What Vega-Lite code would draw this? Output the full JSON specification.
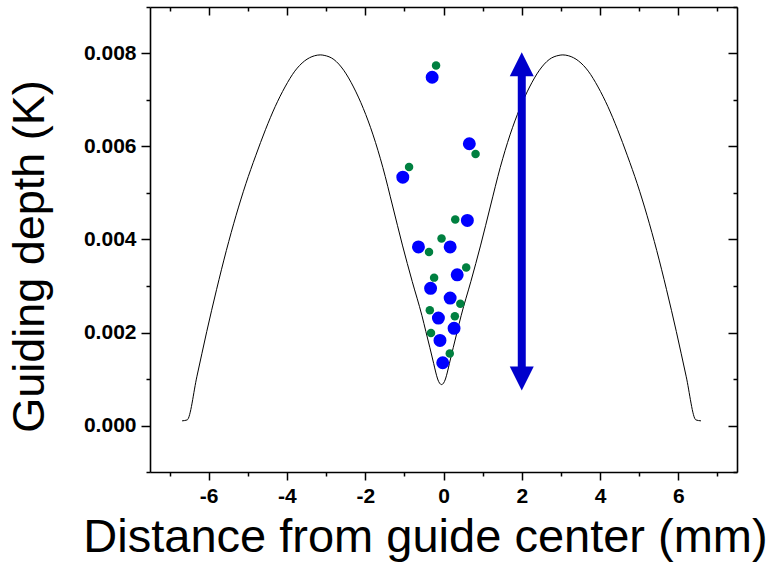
{
  "$schema": "https://vega.github.io/schema/vega-lite/v6.json",
  "autosize": "none",
  "width": 587,
  "height": 465,
  "padding": {"left": 150, "top": 7, "right": 39, "bottom": 90},
  "background": "white",
  "config": {
    "view": {"stroke": null},
    "font": "Liberation Sans",
    "axis": {
      "grid": false,
      "domainColor": "#000000",
      "domainWidth": 1.6,
      "tickColor": "#000000",
      "tickWidth": 1.5,
      "labelFont": "Liberation Sans",
      "labelFontWeight": "bold",
      "labelFontSize": 21,
      "labelColor": "#000000",
      "titleFont": "Liberation Sans",
      "titleFontWeight": "normal",
      "titleColor": "#000000"
    }
  },
  "datasets": {
    "profile": [
      {"x": -6.68, "y": 0.00010}, {"x": -6.55, "y": 0.00012}, {"x": -6.30, "y": 0.00106},
      {"x": -6.05, "y": 0.00202}, {"x": -5.80, "y": 0.00292}, {"x": -5.55, "y": 0.00376},
      {"x": -5.30, "y": 0.00452}, {"x": -5.05, "y": 0.00520}, {"x": -4.80, "y": 0.00580},
      {"x": -4.55, "y": 0.00636}, {"x": -4.30, "y": 0.00686}, {"x": -4.05, "y": 0.00728},
      {"x": -3.80, "y": 0.00762}, {"x": -3.55, "y": 0.00784}, {"x": -3.30, "y": 0.00795},
      {"x": -3.15, "y": 0.00797}, {"x": -3.05, "y": 0.00796}, {"x": -2.80, "y": 0.00787},
      {"x": -2.55, "y": 0.00764}, {"x": -2.30, "y": 0.00728}, {"x": -2.05, "y": 0.00682},
      {"x": -1.80, "y": 0.00625}, {"x": -1.55, "y": 0.00555}, {"x": -1.30, "y": 0.00472},
      {"x": -1.05, "y": 0.00388}, {"x": -0.80, "y": 0.00310}, {"x": -0.55, "y": 0.00236},
      {"x": -0.45, "y": 0.00202}, {"x": -0.35, "y": 0.00168}, {"x": -0.25, "y": 0.00133},
      {"x": -0.20, "y": 0.00115}, {"x": -0.15, "y": 0.00100}, {"x": -0.10, "y": 0.00091},
      {"x": -0.05, "y": 0.00088},
      {"x": 0.00, "y": 0.00091}, {"x": 0.05, "y": 0.00100}, {"x": 0.10, "y": 0.00115},
      {"x": 0.15, "y": 0.00133}, {"x": 0.25, "y": 0.00168}, {"x": 0.35, "y": 0.00202},
      {"x": 0.45, "y": 0.00236}, {"x": 0.70, "y": 0.00310}, {"x": 0.95, "y": 0.00388},
      {"x": 1.20, "y": 0.00472}, {"x": 1.45, "y": 0.00555}, {"x": 1.70, "y": 0.00625},
      {"x": 1.95, "y": 0.00682}, {"x": 2.20, "y": 0.00728}, {"x": 2.45, "y": 0.00764},
      {"x": 2.70, "y": 0.00787}, {"x": 2.95, "y": 0.00796}, {"x": 3.05, "y": 0.00797},
      {"x": 3.20, "y": 0.00795}, {"x": 3.45, "y": 0.00784}, {"x": 3.70, "y": 0.00762},
      {"x": 3.95, "y": 0.00728}, {"x": 4.20, "y": 0.00686}, {"x": 4.45, "y": 0.00636},
      {"x": 4.70, "y": 0.00580}, {"x": 4.95, "y": 0.00520}, {"x": 5.20, "y": 0.00452},
      {"x": 5.45, "y": 0.00376}, {"x": 5.70, "y": 0.00292}, {"x": 5.95, "y": 0.00202},
      {"x": 6.20, "y": 0.00106}, {"x": 6.45, "y": 0.00012}, {"x": 6.58, "y": 0.00010}
    ],
    "arrow": [
      {"x": 2.0, "top": 0.00777, "bottom": 0.00101}
    ],
    "arrowheads": [
      {"x": 2.0, "y": 0.00777, "dir": "up"},
      {"x": 2.0, "y": 0.00101, "dir": "down"}
    ],
    "measurements": [
      {"group": "green", "x": -0.19, "y": 0.00774},
      {"group": "green", "x": 0.82, "y": 0.00584},
      {"group": "green", "x": -0.88, "y": 0.00556},
      {"group": "green", "x": 0.30, "y": 0.00443},
      {"group": "green", "x": -0.37, "y": 0.00373},
      {"group": "green", "x": -0.05, "y": 0.00402},
      {"group": "green", "x": 0.58, "y": 0.00340},
      {"group": "green", "x": -0.24, "y": 0.00318},
      {"group": "green", "x": 0.43, "y": 0.00262},
      {"group": "green", "x": -0.35, "y": 0.00248},
      {"group": "green", "x": 0.29, "y": 0.00235},
      {"group": "green", "x": -0.32, "y": 0.00199},
      {"group": "green", "x": 0.16, "y": 0.00155},
      {"group": "blue", "x": -0.29, "y": 0.00749},
      {"group": "blue", "x": 0.66, "y": 0.00606},
      {"group": "blue", "x": -1.04, "y": 0.00534},
      {"group": "blue", "x": 0.61, "y": 0.00441},
      {"group": "blue", "x": -0.64, "y": 0.00384},
      {"group": "blue", "x": 0.17, "y": 0.00384},
      {"group": "blue", "x": 0.35, "y": 0.00324},
      {"group": "blue", "x": -0.33, "y": 0.00295},
      {"group": "blue", "x": 0.17, "y": 0.00274},
      {"group": "blue", "x": -0.13, "y": 0.00231},
      {"group": "blue", "x": 0.27, "y": 0.00209},
      {"group": "blue", "x": -0.09, "y": 0.00183},
      {"group": "blue", "x": -0.02, "y": 0.00135}
    ]
  },
  "resolve": {"axis": {"x": "independent", "y": "independent"}},
  "layer": [
    {
      "data": {"name": "profile"},
      "mark": {"type": "line", "color": "#000000", "strokeWidth": 1, "interpolate": "monotone"},
      "encoding": {
        "x": {
          "field": "x", "type": "quantitative",
          "scale": {"domain": [-7.5, 7.5], "nice": false, "zero": false},
          "axis": {
            "orient": "bottom",
            "values": [-7, -6, -5, -4, -3, -2, -1, 0, 1, 2, 3, 4, 5, 6, 7],
            "labelExpr": "datum.value % 2 === 0 ? '' + datum.value : ''",
            "tickSize": {"condition": {"test": "datum.value % 2 === 0", "value": 8}, "value": 4},
            "labelPadding": 5,
            "title": "Distance from guide center (mm)",
            "titleFontSize": 47,
            "titleX": 275,
            "titleY": 79,
            "titleBaseline": "alphabetic"
          }
        },
        "y": {
          "field": "y", "type": "quantitative",
          "scale": {"domain": [-0.001, 0.009], "nice": false, "zero": false},
          "axis": {
            "orient": "left",
            "values": [-0.001, 0, 0.001, 0.002, 0.003, 0.004, 0.005, 0.006, 0.007, 0.008, 0.009],
            "labelExpr": "round(datum.value * 1000) % 2 === 0 && datum.value >= 0 && datum.value < 0.0085 ? format(datum.value, '.3f') : ''",
            "tickSize": {"condition": {"test": "round(datum.value * 1000) % 2 === 0", "value": 9}, "value": 4},
            "labelPadding": 5,
            "title": "Guiding depth (K)",
            "titleFontSize": 45,
            "titleX": -107,
            "titleY": 249,
            "titleBaseline": "alphabetic"
          }
        }
      }
    },
    {
      "data": {"name": "arrow"},
      "mark": {"type": "rule", "color": "#0000CC", "strokeWidth": 8},
      "encoding": {
        "x": {"field": "x", "type": "quantitative", "axis": null},
        "y": {"field": "top", "type": "quantitative", "axis": null},
        "y2": {"field": "bottom"}
      }
    },
    {
      "data": {"name": "arrowheads"},
      "mark": {"type": "point", "filled": true, "opacity": 1, "color": "#0000CC", "size": 576},
      "encoding": {
        "x": {"field": "x", "type": "quantitative", "axis": null},
        "y": {"field": "y", "type": "quantitative", "axis": null},
        "shape": {
          "field": "dir", "type": "nominal", "legend": null,
          "scale": {"domain": ["up", "down"], "range": ["M-1,1L0,-1L1,1Z", "M-1,-1L0,1L1,-1Z"]}
        }
      }
    },
    {
      "data": {"name": "measurements"},
      "mark": {"type": "circle", "opacity": 1},
      "encoding": {
        "x": {
          "field": "x", "type": "quantitative",
          "axis": {
            "orient": "top",
            "values": [-7, -6, -5, -4, -3, -2, -1, 0, 1, 2, 3, 4, 5, 6, 7],
            "labels": false,
            "tickSize": {"condition": {"test": "datum.value % 2 === 0", "value": -8}, "value": -4},
            "title": null
          }
        },
        "y": {
          "field": "y", "type": "quantitative",
          "axis": {
            "orient": "right",
            "values": [-0.001, 0, 0.001, 0.002, 0.003, 0.004, 0.005, 0.006, 0.007, 0.008, 0.009],
            "labels": false,
            "tickSize": {"condition": {"test": "round(datum.value * 1000) % 2 === 0", "value": -9}, "value": -4},
            "title": null
          }
        },
        "color": {
          "field": "group", "type": "nominal", "legend": null,
          "scale": {"domain": ["green", "blue"], "range": ["#008040", "#0000FF"]}
        },
        "size": {
          "field": "group", "type": "nominal", "legend": null,
          "scale": {"domain": ["green", "blue"], "range": [72, 168]}
        },
        "order": {"field": "group", "type": "nominal", "sort": "descending"}
      }
    }
  ]
}
